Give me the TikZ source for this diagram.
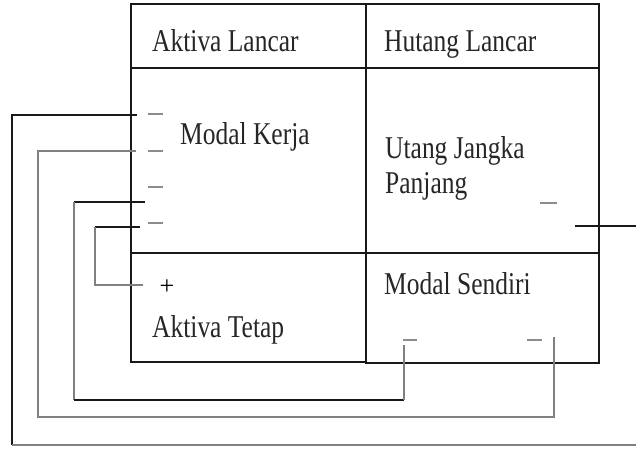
\documentclass[tikz,border=0pt]{standalone}
\usepackage{fontspec}
\setmainfont{Liberation Serif}
\newcommand\talltxt[1]{\scalebox{0.98}[1.22]{#1}}
\begin{document}
\begin{tikzpicture}[x=1pt,y=-1pt,
  box/.style={draw=black!90,line width=1.6pt},
  lbl/.style={anchor=base west,inner sep=0pt,font=\fontsize{26}{30}\selectfont,text=black!85},
  dmark/.style={draw=black!45,line width=1.4pt},
  blk/.style={draw=black!90,line width=1.8pt},
  gry/.style={draw=black!50,line width=2pt}]
\useasboundingbox (0,0) rectangle (636,448);
% table
\draw[box] (131,4) rectangle (366,362);
\draw[box] (366,4) rectangle (599,363);
\draw[box] (131,68) -- (599,68);
\draw[box] (131,253) -- (599,253);
% labels
\node[lbl] (al) at (152,51) {\talltxt{Aktiva Lancar}};
\node[lbl] (hl) at (384,51) {\talltxt{Hutang Lancar}};
\node[lbl] (mk) at (180,144) {\talltxt{Modal Kerja}};
\node[lbl] (uj) at (385,158) {\talltxt{Utang Jangka}};
\node[lbl] (pj) at (385,193) {\talltxt{Panjang}};
\node[lbl] (ms) at (384,294) {\talltxt{Modal Sendiri}};
\node[lbl] (at) at (152,337) {\talltxt{Aktiva Tetap}};
\node[inner sep=0pt,font=\fontsize{26}{30}\selectfont] (plus) at (167,287) {+};
% dash marks
\coordinate (d1a) at (148,114); \coordinate (d1b) at (163,114);
\coordinate (d2a) at (148,151); \coordinate (d2b) at (163,151);
\coordinate (d3a) at (148,187); \coordinate (d3b) at (163,187);
\coordinate (d4a) at (148,223); \coordinate (d4b) at (163,223);
\coordinate (d5a) at (540,203); \coordinate (d5b) at (557,203);
\coordinate (d6a) at (403,340); \coordinate (d6b) at (417,340);
\coordinate (d7a) at (527,340); \coordinate (d7b) at (542,340);
\foreach \i in {1,...,7} {\draw[dmark] (d\i a) -- (d\i b);}
% connector ends
\coordinate (s1) at (137,115);
\coordinate (s2) at (136,151);
\coordinate (s3) at (145,202);
\coordinate (s4) at (140,227);
\coordinate (s4e) at (143,285);
\coordinate (e3) at (404,345);
\coordinate (e2) at (554,337);
\coordinate (r1) at (575,226);
\coordinate (r2) at (636,226);
\coordinate (b1) at (636,445);
% connectors
\draw[blk] (s1) -| (12,445);
\draw[gry] (12,445) -- (b1);
\draw[gry] (s2) -| (38,417) -| (e2);
\draw[blk] (s3) -- (74,202);
\draw[gry] (74,202) -- (74,400);
\draw[blk] (74,400) -- (404,400);
\draw[gry] (404,400) -- (e3);
\draw[blk] (s4) -- (95,227);
\draw[gry] (95,227) |- (s4e);
\draw[blk] (r1) -- (r2);
\end{tikzpicture}
\end{document}
